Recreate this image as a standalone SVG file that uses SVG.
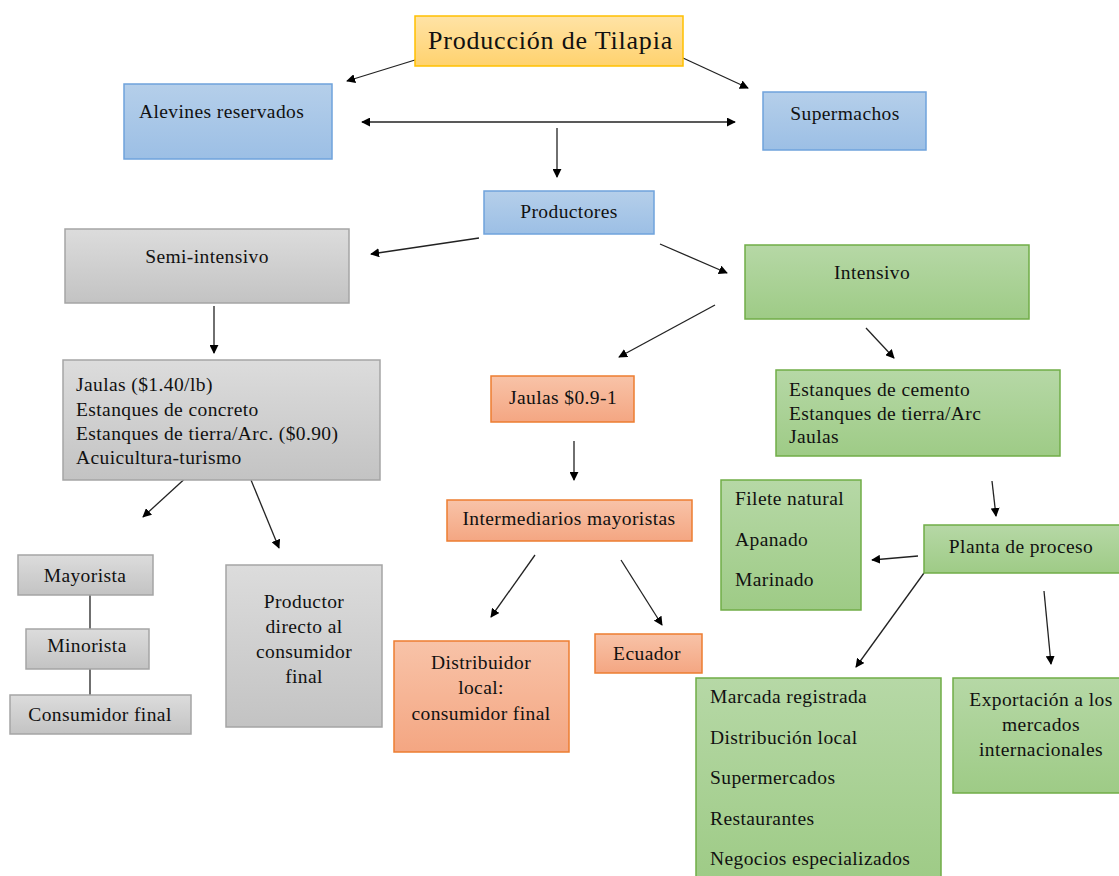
<svg xmlns="http://www.w3.org/2000/svg" width="1119" height="876" viewBox="0 0 1119 876">
<defs>
<linearGradient id="gY" x1="0" y1="0" x2="0" y2="1"><stop offset="0" stop-color="#ffe3a6"/><stop offset="1" stop-color="#ffd26e"/></linearGradient>
<linearGradient id="gB" x1="0" y1="0" x2="0" y2="1"><stop offset="0" stop-color="#b5cfea"/><stop offset="1" stop-color="#9cbfe5"/></linearGradient>
<linearGradient id="gG" x1="0" y1="0" x2="0" y2="1"><stop offset="0" stop-color="#dcdcdc"/><stop offset="1" stop-color="#c3c3c3"/></linearGradient>
<linearGradient id="gN" x1="0" y1="0" x2="0" y2="1"><stop offset="0" stop-color="#b6d8a6"/><stop offset="1" stop-color="#9ecb86"/></linearGradient>
<linearGradient id="gO" x1="0" y1="0" x2="0" y2="1"><stop offset="0" stop-color="#f8c3a8"/><stop offset="1" stop-color="#f4a682"/></linearGradient>
<marker id="ah" viewBox="0 0 10 10" refX="9" refY="5" markerWidth="9" markerHeight="9" markerUnits="userSpaceOnUse" orient="auto-start-reverse"><path d="M0,0 L10,5 L0,10 z" fill="#000"/></marker>
</defs>
<style>
.t{font-family:'Liberation Serif','DejaVu Serif',serif;font-size:19.5px;letter-spacing:0.4px;fill:#111}
.c{text-anchor:middle}
.y{fill:url(#gY);stroke:#ffc000;stroke-width:1.5}
.b{fill:url(#gB);stroke:#6fa3dc;stroke-width:1.5}
.g{fill:url(#gG);stroke:#a5a5a5;stroke-width:1.5}
.n{fill:url(#gN);stroke:#70ad47;stroke-width:1.5}
.o{fill:url(#gO);stroke:#ed7d31;stroke-width:1.5}
#connectors line{stroke:#222;stroke-width:1.3;fill:none}
.a{marker-end:url(#ah)}
</style>
<rect width="1119" height="876" fill="#fff"/>
<g id="connectors">
<line class="a" x1="415" y1="60" x2="347" y2="81"/>
<line class="a" x1="683" y1="58" x2="748" y2="88"/>
<line class="a" x1="362" y1="122" x2="735" y2="122" marker-start="url(#ah)"/>
<line class="a" x1="557" y1="128" x2="557" y2="177"/>
<line class="a" x1="479" y1="238" x2="371" y2="254"/>
<line class="a" x1="660" y1="244" x2="727" y2="273"/>
<line class="a" x1="214" y1="306" x2="214" y2="353"/>
<line class="a" x1="715" y1="305" x2="619" y2="357"/>
<line class="a" x1="866" y1="328" x2="894" y2="358"/>
<line class="a" x1="574" y1="441" x2="574" y2="480"/>
<line class="a" x1="992" y1="481" x2="996" y2="516"/>
<line class="a" x1="918" y1="556" x2="872" y2="560"/>
<line class="a" x1="190" y1="474" x2="143" y2="517"/>
<line class="a" x1="251" y1="480" x2="279" y2="548"/>
<line class="a" x1="535" y1="555" x2="491" y2="617"/>
<line class="a" x1="621" y1="560" x2="662" y2="625"/>
<line class="a" x1="924" y1="573" x2="856" y2="667"/>
<line class="a" x1="1044" y1="591" x2="1051" y2="664"/>
<line x1="90" y1="595" x2="90" y2="629"/>
<line x1="90" y1="669" x2="90" y2="695"/>
</g>
<g class="t" font-family="'Liberation Serif', 'DejaVu Serif', serif">
<g id="n-tilapia"><rect class="y" x="415" y="16" width="268" height="50"/><text x="428" y="49" style="font-size:26px;letter-spacing:0.8px">Producción de Tilapia</text></g>
<g id="n-alevines"><rect class="b" x="124" y="84" width="208" height="75"/><text x="139" y="118">Alevines reservados</text></g>
<g id="n-supermachos"><rect class="b" x="763" y="92" width="163" height="58"/><text class="c" x="845" y="120">Supermachos</text></g>
<g id="n-productores"><rect class="b" x="484" y="191" width="170" height="43"/><text class="c" x="569" y="218">Productores</text></g>
<g id="n-semi"><rect class="g" x="65" y="229" width="284" height="74"/><text class="c" x="207" y="263">Semi-intensivo</text></g>
<g id="n-intensivo"><rect class="n" x="745" y="245" width="284" height="74"/><text class="c" x="872" y="279">Intensivo</text></g>
<g id="n-jaulas-semi"><rect class="g" x="63" y="360" width="317" height="120"/>
<text x="76" y="391">Jaulas ($1.40/lb)</text><text x="76" y="416">Estanques de concreto</text><text x="76" y="440">Estanques de tierra/Arc. ($0.90)</text><text x="76" y="464">Acuicultura-turismo</text></g>
<g id="n-jaulas-int"><rect class="o" x="491" y="376" width="143" height="46"/><text class="c" x="563" y="404">Jaulas $0.9-1</text></g>
<g id="n-estanques"><rect class="n" x="776" y="370" width="284" height="86"/>
<text x="789" y="396">Estanques de cemento</text><text x="789" y="420">Estanques de tierra/Arc</text><text x="789" y="443">Jaulas</text></g>
<g id="n-intermediarios"><rect class="o" x="447" y="500" width="245" height="41"/><text class="c" x="569" y="525">Intermediarios mayoristas</text></g>
<g id="n-filete"><rect class="n" x="721" y="480" width="140" height="130"/>
<text x="735" y="505">Filete natural</text><text x="735" y="546">Apanado</text><text x="735" y="586">Marinado</text></g>
<g id="n-planta"><rect class="n" x="924" y="525" width="200" height="48"/><text class="c" x="1021" y="553">Planta de proceso</text></g>
<g id="n-mayorista"><rect class="g" x="18" y="555" width="135" height="40"/><text class="c" x="85" y="582">Mayorista</text></g>
<g id="n-minorista"><rect class="g" x="26" y="629" width="123" height="40"/><text class="c" x="87" y="652">Minorista</text></g>
<g id="n-consumidor"><rect class="g" x="10" y="695" width="181" height="39"/><text class="c" x="100" y="721">Consumidor final</text></g>
<g id="n-productor-directo"><rect class="g" x="226" y="565" width="156" height="162"/>
<text class="c" x="304" y="608">Productor</text><text class="c" x="304" y="633">directo al</text><text class="c" x="304" y="658">consumidor</text><text class="c" x="304" y="683">final</text></g>
<g id="n-distribuidor"><rect class="o" x="394" y="641" width="175" height="111"/>
<text class="c" x="481" y="669">Distribuidor</text><text class="c" x="481" y="694">local:</text><text class="c" x="481" y="720">consumidor final</text></g>
<g id="n-ecuador"><rect class="o" x="595" y="634" width="107" height="39"/><text class="c" x="647" y="660">Ecuador</text></g>
<g id="n-marcada"><rect class="n" x="696" y="678" width="245" height="204"/>
<text x="710" y="703">Marcada registrada</text><text x="710" y="744">Distribución local</text><text x="710" y="784">Supermercados</text><text x="710" y="825">Restaurantes</text><text x="710" y="865">Negocios especializados</text></g>
<g id="n-exportacion"><rect class="n" x="953" y="678" width="170" height="115"/>
<text class="c" x="1041" y="706">Exportación a los</text><text class="c" x="1041" y="731">mercados</text><text class="c" x="1041" y="756">internacionales</text></g>
</g>
</svg>
